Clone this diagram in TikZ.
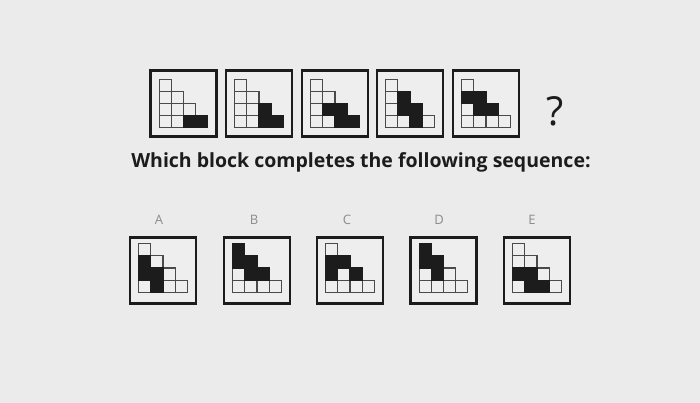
\documentclass[tikz,border=0pt]{standalone}
\usepackage{fontspec}
\setmainfont{Open Sans}
\definecolor{pagebg}{HTML}{EBEBEB}
\definecolor{boxbg}{HTML}{EEEEEE}
\definecolor{inkdark}{HTML}{1C1C1C}
\definecolor{gridln}{HTML}{4A4A4A}
\definecolor{lettergray}{HTML}{8C8C8C}

% staircase grid of 10 squares inside a box node, #2 = filled cells col/row
\newcommand{\stairs}[3]{%
  \begin{scope}[shift={(#1.center)},yshift=#3]
    \foreach \c in {1,...,4}{
      \pgfmathtruncatemacro{\nrows}{5-\c}
      \foreach \r in {1,...,\nrows}
        \draw[sqcell] ({(\c-3)*12.2},{24.4-(\r-1)*12.2}) rectangle ++(12.2,-12.2);
    }
    \foreach \c/\r in {#2}
      \draw[sqfull] ({(\c-3)*12.2},{24.4-(\r-1)*12.2}) rectangle ++(12.2,-12.2);
  \end{scope}}

\tikzset{
  blk/.style={draw=inkdark, line width=2.2pt, fill=boxbg,
    minimum size=66pt, inner sep=0pt},
  sqcell/.style={draw=gridln, line width=1.1pt},
  sqfull/.style={draw=inkdark, fill=inkdark, line width=1.1pt},
  optlabel/.style={text=lettergray, font=\fontsize{13}{15}\selectfont},
}

\begin{document}
\begin{tikzpicture}[x=1pt,y=-1pt]
  \fill[pagebg] (0,0) rectangle (700,403);
  \useasboundingbox (0,0) rectangle (700,403);

  % sequence
  \node[blk] (s1) at (183.5,103.5) {};
  \node[blk] (s2) at (259,103.5) {};
  \node[blk] (s3) at (335,103.5) {};
  \node[blk] (s4) at (410,103.5) {};
  \node[blk] (s5) at (486,103.5) {};
  \node[text=inkdark, font=\fontsize{40}{44}\selectfont] (qmark) at (555,111) {?};

  \stairs{s1}{3/1,4/1}{0pt}
  \stairs{s2}{3/2,3/1,4/1}{0pt}
  \stairs{s3}{2/2,3/2,3/1,4/1}{0pt}
  \stairs{s4}{2/3,2/2,3/2,3/1}{0pt}
  \stairs{s5}{1/3,2/3,2/2,3/2}{0pt}

  \node[text=inkdark, font=\bfseries\fontsize{19.5}{22}\selectfont] (quest) at (361,162)
    {Which block completes the following sequence:};

  % answers
  \node[blk] (oa) at (163,270.5) {};
  \node[blk] (ob) at (257,270.5) {};
  \node[blk] (oc) at (350,270.5) {};
  \node[blk] (od) at (443.5,270.5) {};
  \node[blk] (oe) at (537,270.5) {};

  \stairs{oa}{1/3,1/2,2/2,2/1}{2.5pt}
  \stairs{ob}{1/4,1/3,2/3,2/2,3/2}{2.5pt}
  \stairs{oc}{1/3,2/3,1/2,3/2}{2.5pt}
  \stairs{od}{1/4,1/3,2/3,2/2}{2.5pt}
  \stairs{oe}{1/2,2/2,2/1,3/1}{2.5pt}

  \node[optlabel] (la) at (159,220) {A};
  \node[optlabel] (lb) at (254,220) {B};
  \node[optlabel] (lc) at (347,220) {C};
  \node[optlabel] (ld) at (439,220) {D};
  \node[optlabel] (le) at (532,220) {E};
\end{tikzpicture}
\end{document}
